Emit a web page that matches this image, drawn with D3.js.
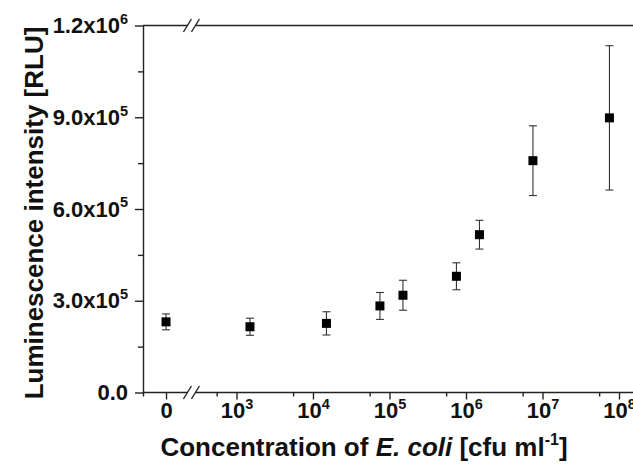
<!DOCTYPE html>
<html>
<head>
<meta charset="utf-8">
<script src="https://cdn.jsdelivr.net/npm/d3@7"></script>
<style>
  body { margin: 0; background: #fff; }
  svg { display: block; font-family: "Liberation Sans", Arial, sans-serif; font-weight: bold; }
</style>
</head>
<body>
<svg id="chart" width="633" height="467"></svg>
<script>
// E. coli concentration [cfu/ml], 0 = blank
const concentrations = [0, 1.5e3, 1.5e4, 7.5e4, 1.5e5, 7.5e5, 1.5e6, 7.5e6, 7.5e7];
// luminescence [RLU] and its error (+/-)
const luminescence = [2.31e5, 2.15e5, 2.26e5, 2.83e5, 3.18e5, 3.80e5, 5.16e5, 7.58e5, 8.98e5];
const errors = [0.26e5, 0.28e5, 0.38e5, 0.44e5, 0.49e5, 0.44e5, 0.47e5, 1.14e5, 2.36e5];

const xTickValues = [0, 1e3, 1e4, 1e5, 1e6, 1e7, 1e8];
const xTickLabels = [["0", ""], ["10", "3"], ["10", "4"], ["10", "5"], ["10", "6"], ["10", "7"], ["10", "8"]];
const yTickValues = [0, 3e5, 6e5, 9e5, 1.2e6];
const yTickLabels = [["0.0", ""], ["3.0x10", "5"], ["6.0x10", "5"], ["9.0x10", "5"], ["1.2x10", "6"]];
const yMinorValues = [1.5e5, 4.5e5, 7.5e5, 1.05e6];

const config = {
  ZERO_AT: 120,       // where the "0" sample sits on the log axis
  BREAK_AT: 250,      // axis break between 0 and 10^3
  MINOR_FACTOR: 0.55, // minor ticks sit a little before each decade
  MARKER: 9,
  CAP: 8,
  TICK_FONT: 22,
  TITLE_FONT: 26,
};

const svg = d3.select("#chart");
const layout = { left: 143, right: 640, top: 25.5, bottom: 392.5 };

const x = d3.scaleLog().domain([60, 1e8]).range([layout.left, 619]);
const y = d3.scaleLinear().domain([0, 1.2e6]).range([layout.bottom, layout.top]);

const xPos = v => x(v === 0 ? config.ZERO_AT : v);

function supLabel(text, pair, baseSize) {
  text.text(null);
  text.append("tspan").text(pair[0]);
  if (pair[1]) {
    text.append("tspan")
      .attr("font-size", baseSize * 0.66)
      .attr("dy", -baseSize * 0.42)
      .text(pair[1]);
  }
}

// Y axis
const gy = svg.append("g")
  .attr("transform", `translate(${layout.left},0)`)
  .call(d3.axisLeft(y).tickValues(yTickValues).tickSize(8).tickSizeOuter(0).tickPadding(7));
gy.selectAll(".tick text")
  .attr("font-size", config.TICK_FONT)
  .attr("font-family", null)
  .attr("fill", "#111")
  .each(function (d, i) { supLabel(d3.select(this), yTickLabels[i], config.TICK_FONT); });

svg.append("g")
  .attr("transform", `translate(${layout.left},0)`)
  .call(d3.axisLeft(y).tickValues(yMinorValues).tickSize(5).tickFormat(""))
  .call(g => g.select(".domain").remove());

// X axis (ticks only, the line is drawn with the break below)
const xMajor = xTickValues.map(v => v === 0 ? config.ZERO_AT : v);
const xMinor = xTickValues.filter(v => v > 0).map(v => v * config.MINOR_FACTOR).concat([60]);

const gx = svg.append("g")
  .attr("transform", `translate(0,${layout.bottom})`)
  .call(d3.axisBottom(x).tickValues(xMajor).tickSize(7).tickPadding(3))
  .call(g => g.select(".domain").remove());
gx.selectAll(".tick text")
  .attr("font-size", config.TICK_FONT)
  .attr("font-family", null)
  .attr("fill", "#111")
  .each(function (d, i) { supLabel(d3.select(this), xTickLabels[i], config.TICK_FONT); });

svg.append("g")
  .attr("transform", `translate(0,${layout.bottom})`)
  .call(d3.axisBottom(x).tickValues(xMinor).tickSize(4).tickFormat(""))
  .call(g => g.select(".domain").remove());

svg.selectAll(".tick line").attr("stroke", "#222").attr("stroke-width", 1.4);
svg.selectAll(".domain").attr("stroke", "#222").attr("stroke-width", 1.4);

// top and bottom frame lines, each with a // break
const bx = x(config.BREAK_AT);
const frame = svg.append("g").attr("stroke", "#222").attr("stroke-width", 1.4).attr("fill", "none");
[y(1.2e6), y(0)].forEach(yy => {
  frame.append("line").attr("x1", layout.left).attr("x2", bx - 3).attr("y1", yy).attr("y2", yy);
  frame.append("line").attr("x1", bx + 5).attr("x2", layout.right).attr("y1", yy).attr("y2", yy);
  [bx - 3, bx + 5].forEach(sx => {
    frame.append("line")
      .attr("x1", sx - 4).attr("y1", yy + 6.5)
      .attr("x2", sx + 4).attr("y2", yy - 6.5);
  });
});

// error bars
const points = concentrations.map((c, i) => ({ c, v: luminescence[i], e: errors[i] }));

const bars = svg.append("g")
  .attr("stroke", "#333")
  .attr("stroke-width", 1.1)
  .selectAll("g")
  .data(points)
  .join("g");

bars.append("line")
  .attr("x1", d => xPos(d.c)).attr("x2", d => xPos(d.c))
  .attr("y1", d => y(d.v - d.e)).attr("y2", d => y(d.v + d.e));
bars.append("line")
  .attr("x1", d => xPos(d.c) - config.CAP / 2).attr("x2", d => xPos(d.c) + config.CAP / 2)
  .attr("y1", d => y(d.v + d.e)).attr("y2", d => y(d.v + d.e));
bars.append("line")
  .attr("x1", d => xPos(d.c) - config.CAP / 2).attr("x2", d => xPos(d.c) + config.CAP / 2)
  .attr("y1", d => y(d.v - d.e)).attr("y2", d => y(d.v - d.e));

svg.append("g")
  .selectAll("rect")
  .data(points)
  .join("rect")
  .attr("x", d => xPos(d.c) - config.MARKER / 2)
  .attr("y", d => y(d.v) - config.MARKER / 2)
  .attr("width", config.MARKER)
  .attr("height", config.MARKER)
  .attr("fill", "#000");

// axis titles
const xTitle = svg.append("text")
  .attr("x", 364)
  .attr("y", 456)
  .attr("text-anchor", "middle")
  .attr("font-size", config.TITLE_FONT)
  .attr("fill", "#111");
xTitle.append("tspan").text("Concentration of ");
xTitle.append("tspan").attr("font-style", "italic").text("E. coli");
xTitle.append("tspan").text(" [cfu ml");
xTitle.append("tspan").attr("font-size", 16).attr("dy", -11).text("-1");
xTitle.append("tspan").attr("dy", 11).text("]");

svg.append("text")
  .attr("transform", `translate(43,213) rotate(-90)`)
  .attr("text-anchor", "middle")
  .attr("font-size", config.TITLE_FONT)
  .attr("fill", "#111")
  .text("Luminescence intensity [RLU]");
</script>
</body>
</html>
